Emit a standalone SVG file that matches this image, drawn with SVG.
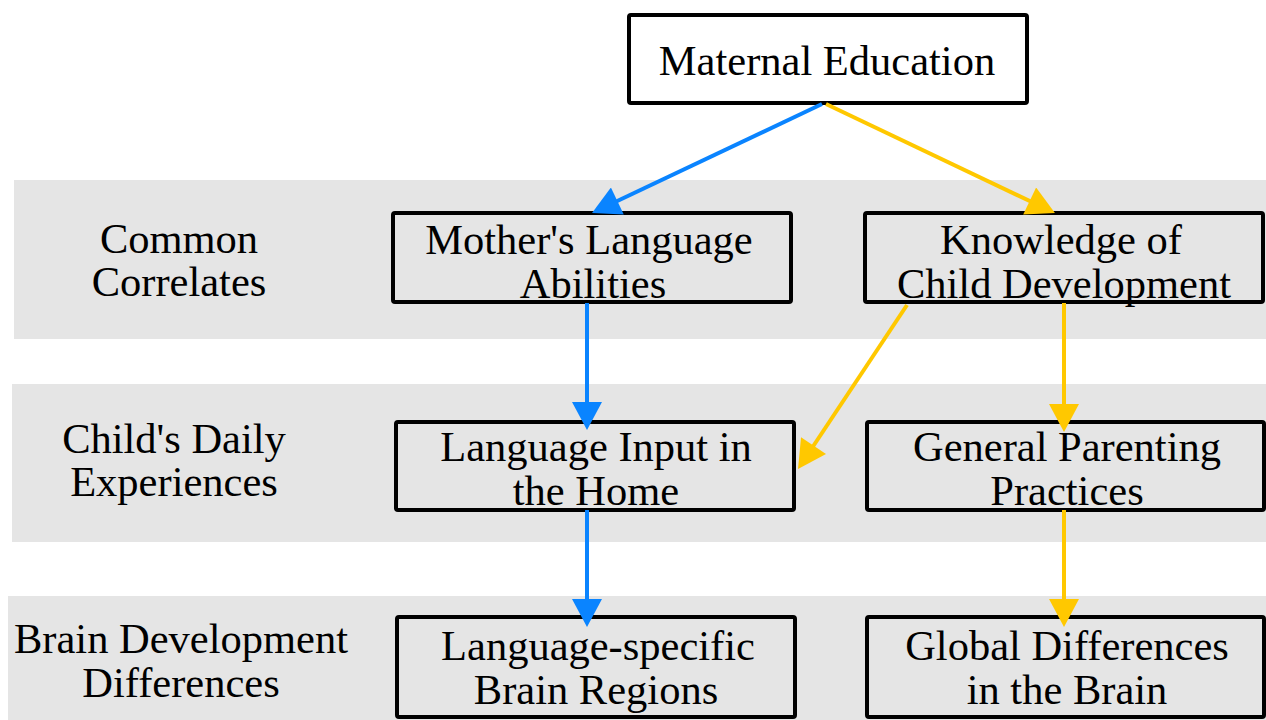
<svg xmlns="http://www.w3.org/2000/svg" width="1266" height="720" viewBox="0 0 1266 720">
<style>
.band{fill:#e5e5e5}
.box{fill:none;stroke:#000;stroke-width:4}
.t{font-family:"Liberation Serif","Times New Roman",serif;font-size:42.5px;fill:#000;text-anchor:middle}
.blue{stroke:#0a84ff;stroke-width:4;fill:none;marker-end:url(#ab)}
.yel{stroke:#ffc800;stroke-width:4;fill:none;marker-end:url(#ay)}
</style>
<defs>
<marker id="ab" markerUnits="userSpaceOnUse" markerWidth="30" markerHeight="30" refX="10" refY="15" orient="auto" viewBox="0 0 28 30"><path d="M0,0 L28,15 L0,30 z" fill="#0a84ff"/></marker>
<marker id="ay" markerUnits="userSpaceOnUse" markerWidth="30" markerHeight="30" refX="10" refY="15" orient="auto" viewBox="0 0 28 30"><path d="M0,0 L28,15 L0,30 z" fill="#ffc800"/></marker>
</defs>
<rect width="1266" height="720" fill="#fff"/>
<g id="bands">
<rect class="band" x="14" y="180" width="1252" height="159"/>
<rect class="band" x="12" y="384" width="1254" height="158"/>
<rect class="band" x="8" y="596" width="1258" height="124"/>
</g>
<g id="row-labels">
<text class="t" x="179" y="253">Common</text>
<text class="t" x="179" y="296">Correlates</text>
<text class="t" x="174" y="453">Child's Daily</text>
<text class="t" x="174" y="496">Experiences</text>
<text class="t" x="181" y="653">Brain Development</text>
<text class="t" x="181" y="697">Differences</text>
</g>
<g id="maternal-education">
<rect class="box" x="629" y="15" width="398" height="88" rx="2" style="fill:#fff"/>
<text class="t" x="827" y="75">Maternal Education</text>
</g>
<g id="mothers-language">
<rect class="box" x="393" y="213" width="398" height="89" rx="2"/>
<text class="t" x="589" y="254">Mother's Language</text>
<text class="t" x="593" y="298">Abilities</text>
</g>
<g id="knowledge">
<rect class="box" x="865" y="213" width="398" height="89" rx="2"/>
<text class="t" x="1061" y="254">Knowledge of</text>
<text class="t" x="1064" y="298">Child Development</text>
</g>
<g id="language-input">
<rect class="box" x="396" y="422" width="398" height="88" rx="2"/>
<text class="t" x="596" y="461">Language Input in</text>
<text class="t" x="596" y="505">the Home</text>
</g>
<g id="parenting">
<rect class="box" x="867" y="422" width="397" height="88" rx="2"/>
<text class="t" x="1067" y="461">General Parenting</text>
<text class="t" x="1067" y="505">Practices</text>
</g>
<g id="language-specific">
<rect class="box" x="397" y="617" width="398" height="100" rx="2"/>
<text class="t" x="598" y="660">Language-specific</text>
<text class="t" x="596" y="704">Brain Regions</text>
</g>
<g id="global">
<rect class="box" x="867" y="617" width="397" height="100" rx="2"/>
<text class="t" x="1067" y="660">Global Differences</text>
<text class="t" x="1067" y="704">in the Brain</text>
</g>
<g id="connectors">
<line class="blue" x1="822" y1="104" x2="608.3" y2="205.3"/>
<line class="yel" x1="826" y1="104" x2="1038.7" y2="205.3"/>
<line class="blue" x1="587" y1="303" x2="587" y2="412"/>
<line class="yel" x1="907" y1="305" x2="808" y2="454"/>
<line class="yel" x1="1064" y1="303" x2="1064" y2="414"/>
<line class="blue" x1="587" y1="510" x2="587" y2="609"/>
<line class="yel" x1="1064" y1="510" x2="1064" y2="609"/>
</g>
</svg>
